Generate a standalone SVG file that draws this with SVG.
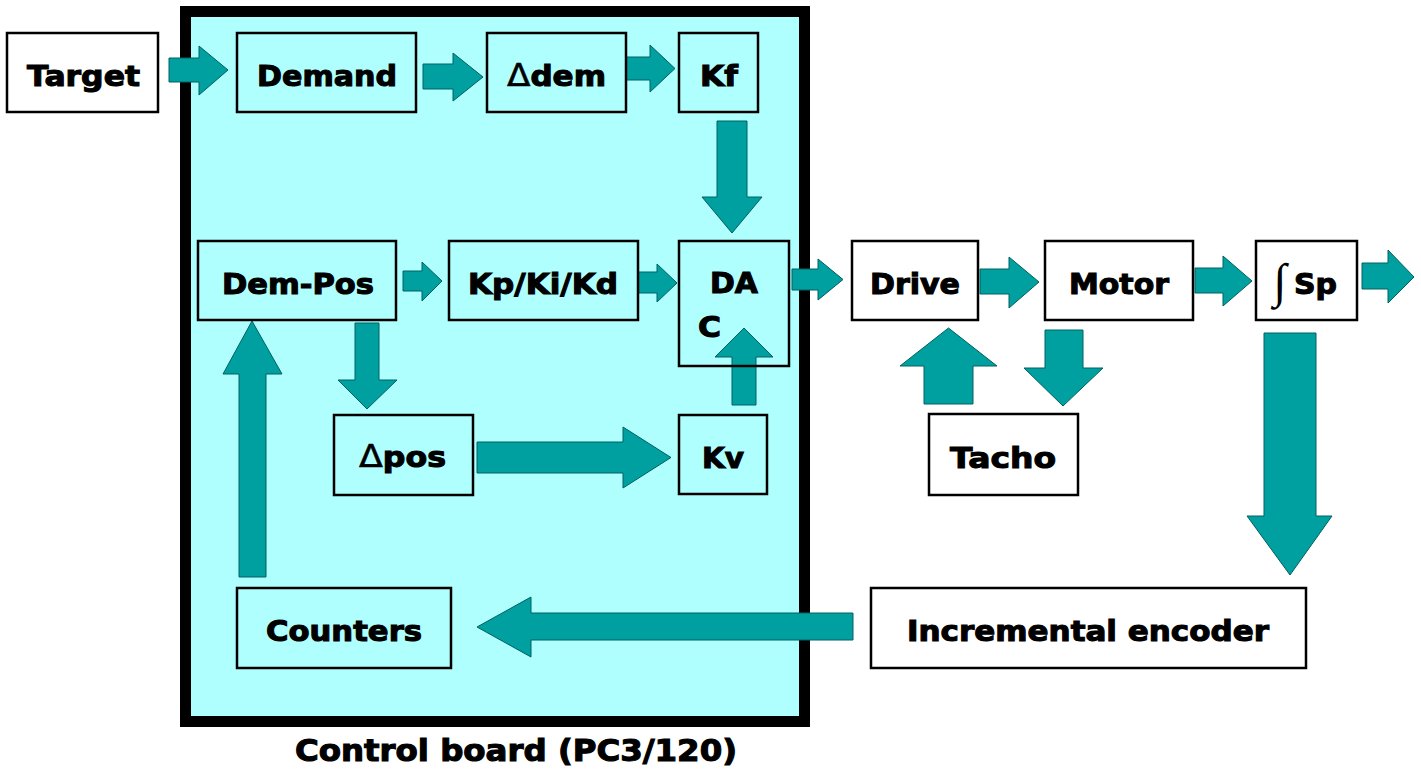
<svg xmlns="http://www.w3.org/2000/svg" width="1421" height="771" viewBox="0 0 1421 771">
  <style>
    .box { fill: none; stroke: #000; stroke-width: 2.5; }
    .arrow { fill: #00a0a0; stroke: #006060; stroke-width: 1; stroke-linejoin: miter; }
    .lbl { font-family: "DejaVu Sans", "Liberation Sans", sans-serif; font-weight: bold; font-size: 29px; fill: #000; stroke: #000; stroke-width: 1.1; text-anchor: middle; }
    .sym { font-family: "DejaVu Sans", sans-serif; font-weight: normal; stroke-width: 0.6; }
    .caption { font-family: "DejaVu Sans", "Liberation Sans", sans-serif; font-weight: bold; font-size: 30px; fill: #000; stroke: #000; stroke-width: 1.1; text-anchor: middle; }
  </style>

  <rect width="1421" height="771" fill="#fff"/>

  <!-- Control board enclosure -->
  <g id="control-board">
    <rect x="185.5" y="11.5" width="619" height="710" fill="#b0ffff" stroke="#000" stroke-width="11"/>
    <text class="caption" x="516" y="761" textLength="442" lengthAdjust="spacingAndGlyphs">Control board (PC3/120)</text>
  </g>

  <!-- Block arrows -->
  <g id="connectors">
    <!-- Target -> Demand -->
    <polygon class="arrow" points="169,58 199,58 199,46 228,70 199,95 199,82 169,82"/>
    <!-- Demand -> delta dem -->
    <polygon class="arrow" points="423,64 453,64 453,53 483,77 453,101 453,89 423,89"/>
    <!-- delta dem -> Kf -->
    <polygon class="arrow" points="626,57 650,57 650,45 675,68.5 650,92 650,80 626,80"/>
    <!-- Kf -> DAC -->
    <polygon class="arrow" points="717,121 747,121 747,197 762,197 732,233 702,197 717,197"/>
    <!-- Dem-Pos -> Kp/Ki/Kd -->
    <polygon class="arrow" points="403,271 422,271 422,262 442,281 422,301 422,291 403,291"/>
    <!-- Kp/Ki/Kd -> DAC -->
    <polygon class="arrow" points="638,272 657,272 657,264 677,283 657,302 657,293 638,293"/>
    <!-- DAC -> Drive -->
    <polygon class="arrow" points="792,269 818,269 818,259 843,279.5 818,300 818,290 792,290"/>
    <!-- Kv -> DAC -->
    <polygon class="arrow" points="732,405 756,405 756,357 773,357 744,328 715,357 732,357"/>
    <!-- Dem-Pos -> delta pos -->
    <polygon class="arrow" points="355,323 379,323 379,380 397,380 367,409 338,380 355,380"/>
    <!-- Counters -> Dem-Pos -->
    <polygon class="arrow" points="239,577 266,577 266,374 282,374 252,321 223,374 239,374"/>
    <!-- delta pos -> Kv -->
    <polygon class="arrow" points="477,442 623,442 623,427 671,457.5 623,488 623,473 477,473"/>
    <!-- Drive -> Motor -->
    <polygon class="arrow" points="980,269 1009,269 1009,257 1039,282 1009,308 1009,294 980,294"/>
    <!-- Motor -> integral Sp -->
    <polygon class="arrow" points="1195,268 1223,268 1223,256 1252,281 1223,306 1223,293 1195,293"/>
    <!-- integral Sp -> output -->
    <polygon class="arrow" points="1362,263 1388,263 1388,250 1414,277 1388,303 1388,289 1362,289"/>
    <!-- Tacho -> Drive -->
    <polygon class="arrow" points="924,404 973,404 973,366 997,366 948.5,328 900,366 924,366"/>
    <!-- Motor -> Tacho -->
    <polygon class="arrow" points="1045,330 1083,330 1083,368 1103,368 1063,406 1024,368 1045,368"/>
    <!-- integral Sp -> Incremental encoder -->
    <polygon class="arrow" points="1264,333 1316,333 1316,516 1332,516 1290,575 1247,516 1264,516"/>
    <!-- Incremental encoder -> Counters -->
    <polygon class="arrow" points="853,613 531,613 531,597 477,627 531,657 531,640 853,640"/>
  </g>

  <!-- Nodes -->
  <g id="target">
    <rect class="box" x="7" y="33" width="151" height="79"/>
    <text class="lbl" x="83.5" y="86" textLength="113" lengthAdjust="spacingAndGlyphs">Target</text>
  </g>
  <g id="demand">
    <rect class="box" x="237" y="33" width="179" height="79"/>
    <text class="lbl" x="327" y="86" textLength="140" lengthAdjust="spacingAndGlyphs">Demand</text>
  </g>
  <g id="delta-dem">
    <rect class="box" x="487" y="33" width="139" height="79"/>
    <text class="lbl" x="556.5" y="86" textLength="99" lengthAdjust="spacingAndGlyphs"><tspan class="sym" font-size="32">Δ</tspan>dem</text>
  </g>
  <g id="kf">
    <rect class="box" x="679" y="33" width="79" height="79"/>
    <text class="lbl" x="719" y="86" textLength="38" lengthAdjust="spacingAndGlyphs">Kf</text>
  </g>
  <g id="dem-pos">
    <rect class="box" x="198" y="241" width="198" height="79"/>
    <text class="lbl" x="298" y="294" textLength="152" lengthAdjust="spacingAndGlyphs">Dem-Pos</text>
  </g>
  <g id="pid">
    <rect class="box" x="449" y="241" width="189" height="79"/>
    <text class="lbl" x="543" y="294" textLength="150" lengthAdjust="spacingAndGlyphs">Kp/Ki/Kd</text>
  </g>
  <g id="dac">
    <rect class="box" x="679" y="241" width="110" height="125"/>
    <text class="lbl" x="734" y="293" textLength="48" lengthAdjust="spacingAndGlyphs">DA</text>
    <text class="lbl" x="709.5" y="337" textLength="23" lengthAdjust="spacingAndGlyphs">C</text>
  </g>
  <g id="delta-pos">
    <rect class="box" x="334" y="415" width="139" height="80"/>
    <text class="lbl" x="402.5" y="467" textLength="87" lengthAdjust="spacingAndGlyphs"><tspan class="sym" font-size="32">Δ</tspan>pos</text>
  </g>
  <g id="kv">
    <rect class="box" x="679" y="415" width="88" height="79"/>
    <text class="lbl" x="723" y="468" textLength="42" lengthAdjust="spacingAndGlyphs">Kv</text>
  </g>
  <g id="counters">
    <rect class="box" x="237" y="588" width="214" height="80"/>
    <text class="lbl" x="344" y="641" textLength="156" lengthAdjust="spacingAndGlyphs">Counters</text>
  </g>
  <g id="drive">
    <rect class="box" x="852" y="241" width="126" height="79"/>
    <text class="lbl" x="915" y="294" textLength="90" lengthAdjust="spacingAndGlyphs">Drive</text>
  </g>
  <g id="motor">
    <rect class="box" x="1045" y="241" width="148" height="79"/>
    <text class="lbl" x="1119" y="294" textLength="100" lengthAdjust="spacingAndGlyphs">Motor</text>
  </g>
  <g id="integral-sp">
    <rect class="box" x="1256" y="241" width="101" height="79"/>
    <text x="1280" y="297" font-family="Liberation Serif, DejaVu Serif, serif" font-size="48" text-anchor="middle" fill="#000">∫</text>
    <text class="lbl" x="1315.5" y="294" textLength="43" lengthAdjust="spacingAndGlyphs">Sp</text>
  </g>
  <g id="tacho">
    <rect class="box" x="929" y="414" width="149" height="81"/>
    <text class="lbl" x="1003" y="468" textLength="106" lengthAdjust="spacingAndGlyphs">Tacho</text>
  </g>
  <g id="incremental-encoder">
    <rect class="box" x="871" y="588" width="435" height="80"/>
    <text class="lbl" x="1088" y="641" textLength="362" lengthAdjust="spacingAndGlyphs">Incremental encoder</text>
  </g>
</svg>
